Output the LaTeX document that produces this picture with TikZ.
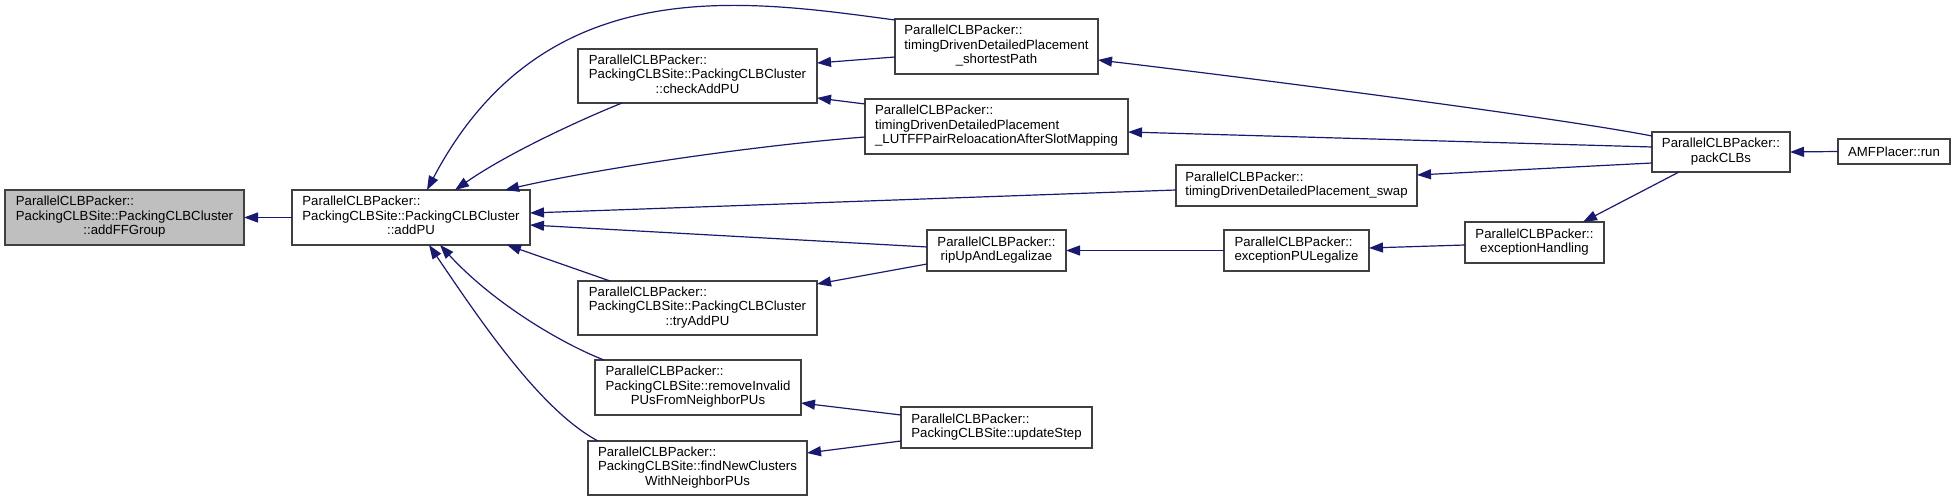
\documentclass[tikz,border=0pt]{standalone}
\usepackage{fontspec}
\setmainfont{Liberation Sans}
\usetikzlibrary{arrows.meta,calc}
\definecolor{edgecol}{HTML}{191970}
\definecolor{boxline}{HTML}{404040}
\definecolor{hilite}{HTML}{BFBFBF}
\newcommand\lbl[2]{\begin{tabular}{@{}l@{}}#1\\\multicolumn{1}{@{}c@{}}{#2}\end{tabular}}
\begin{document}
\begin{tikzpicture}[x=0.5pt,y=-0.5pt,
  box/.style 2 args={draw=boxline, line width=0.75pt, fill=white, inner sep=0pt, outer sep=0pt,
    anchor=north west, minimum width={#1*0.5pt}, minimum height={#2*0.5pt},
    font=\fontsize{6.6}{7.25}\selectfont},
  edge/.style={draw=edgecol, line width=0.6pt, -{Triangle[length=7pt,width=5pt]}}]
\fill[white] (0,0) rectangle (1955,501);
\useasboundingbox (0,0) rectangle (1955,501);

% nodes
\node[box={239}{55}, fill=hilite] (ffg) at (5,190) {\lbl{ParallelCLBPacker::\\PackingCLBSite::PackingCLBCluster}{::addFFGroup}};
\node[box={238}{55}] (addPU) at (292,190) {\lbl{ParallelCLBPacker::\\PackingCLBSite::PackingCLBCluster}{::addPU}};
\node[box={239}{54}] (check) at (578,49) {\lbl{ParallelCLBPacker::\\PackingCLBSite::PackingCLBCluster}{::checkAddPU}};
\node[box={239}{54}] (tryAdd) at (578,281) {\lbl{ParallelCLBPacker::\\PackingCLBSite::PackingCLBCluster}{::tryAddPU}};
\node[box={206}{55}] (remove) at (595,360) {\lbl{ParallelCLBPacker::\\PackingCLBSite::removeInvalid}{PUsFromNeighborPUs}};
\node[box={219}{54}] (findNew) at (588,441) {\lbl{ParallelCLBPacker::\\PackingCLBSite::findNewClusters}{WithNeighborPUs}};
\node[box={203}{55}] (shortest) at (895,19) {\lbl{ParallelCLBPacker::\\timingDrivenDetailedPlacement}{\_shortestPath}};
\node[box={263}{55}] (lutff) at (865,99) {\lbl{ParallelCLBPacker::\\timingDrivenDetailedPlacement}{\_LUTFFPairReloacationAfterSlotMapping}};
\node[box={139}{41}] (ripUp) at (927,230) {\lbl{ParallelCLBPacker::}{ripUpAndLegalizae}};
\node[box={191}{41}] (update) at (901,407) {\lbl{ParallelCLBPacker::}{PackingCLBSite::updateStep}};
\node[box={241}{41}] (swap) at (1176,165) {\lbl{ParallelCLBPacker::}{timingDrivenDetailedPlacement\_swap}};
\node[box={145}{41}] (exPU) at (1224,230) {\lbl{ParallelCLBPacker::}{exceptionPULegalize}};
\node[box={139}{41}] (exH) at (1465,222) {\lbl{ParallelCLBPacker::}{exceptionHandling}};
\node[box={138}{40}] (pack) at (1652,132) {\lbl{ParallelCLBPacker::}{packCLBs}};
\node[box={112}{25}] (run) at (1838,139) {AMFPlacer::run};

% edges (caller -> callee)
\draw[edge] ($(addPU.north west)+(0,27.5)$) -- ($(ffg.north west)+(239,27.5)$);
\draw[edge] ($(shortest.north west)+(0,1)$) .. controls (745,0) and (544,-32) .. ($(addPU.north west)+(135,0)$);
\draw[edge] ($(check.north west)+(44,54)$) .. controls (575,122) and (505,155) .. ($(addPU.north west)+(163,0)$);
\draw[edge] ($(lutff.north west)+(0,38)$) .. controls (760,145) and (600,168) .. ($(addPU.north west)+(213,0)$);
\draw[edge] ($(swap.north west)+(0,25)$) -- ($(addPU.north west)+(238,23)$);
\draw[edge] ($(ripUp.north west)+(0,17)$) -- ($(addPU.north west)+(238,35)$);
\draw[edge] ($(tryAdd.north west)+(32,0)$) -- ($(addPU.north west)+(215,55)$);
\draw[edge] ($(remove.north west)+(9,0)$) .. controls (565,345) and (495,305) .. ($(addPU.north west)+(148,55)$);
\draw[edge] ($(findNew.north west)+(10,0)$) .. controls (540,410) and (480,320) .. ($(addPU.north west)+(137,55)$);
\draw[edge] ($(shortest.north west)+(0,38)$) -- ($(check.north west)+(239,14)$);
\draw[edge] ($(lutff.north west)+(0,5)$) -- ($(check.north west)+(239,49)$);
\draw[edge] ($(ripUp.north west)+(0,34)$) -- ($(tryAdd.north west)+(239,3)$);
\draw[edge] ($(update.north west)+(0,8)$) -- ($(remove.north west)+(206,43)$);
\draw[edge] ($(update.north west)+(0,34)$) -- ($(findNew.north west)+(219,12)$);
\draw[edge] ($(pack.north west)+(0,4)$) .. controls (1560,118) and (1250,78) .. ($(shortest.north west)+(203,41)$);
\draw[edge] ($(pack.north west)+(0,15)$) -- ($(lutff.north west)+(263,33)$);
\draw[edge] ($(pack.north west)+(0,31)$) -- ($(swap.north west)+(241,10)$);
\draw[edge] ($(pack.north west)+(27,40)$) -- ($(exH.north west)+(118,0)$);
\draw[edge] ($(run.north west)+(0,12.5)$) -- ($(pack.north west)+(138,20)$);
\draw[edge] ($(exH.north west)+(0,23)$) -- ($(exPU.north west)+(145,18)$);
\draw[edge] ($(exPU.north west)+(0,20.5)$) -- ($(ripUp.north west)+(139,20.5)$);
\end{tikzpicture}
\end{document}
